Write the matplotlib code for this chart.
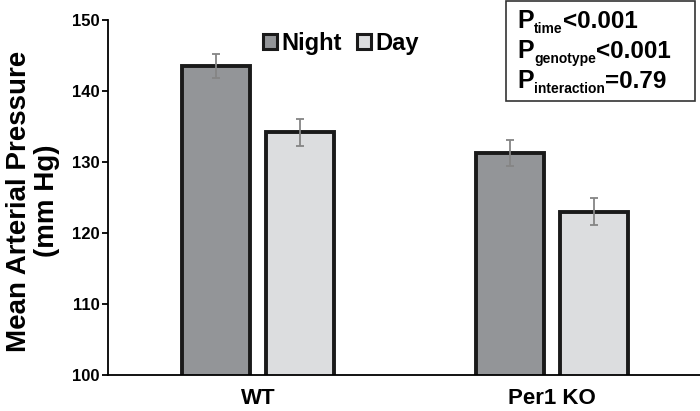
import numpy as np
import matplotlib.pyplot as plt

plt.rcParams['font.family'] = ['Liberation Sans', 'DejaVu Sans']
plt.rcParams['font.weight'] = 'bold'

# data
groups = ['WT', 'Per1 KO']
night = [143.5, 131.3]
night_err = [1.7, 1.8]
day = [134.2, 123.0]
day_err = [1.9, 1.9]
p_subs = ['time', 'genotype', 'interaction']
p_vals = ['<0.001', '<0.001', '=0.79']

x = np.arange(len(groups))
w = 0.231
off = 0.143

W, H = 700, 411
fig = plt.figure(figsize=(W / 100, H / 100), dpi=100)
ax = fig.add_axes([0.154, 0.0876, 0.846, 0.8634])

ax.bar(x - off, night, w, color='#939598', edgecolor='#1a1a1a', linewidth=2.8,
       label='Night', zorder=2)
ax.bar(x + off, day, w, color='#dcdddf', edgecolor='#1a1a1a', linewidth=2.8,
       label='Day', zorder=2)
ax.errorbar(x - off, night, yerr=night_err, fmt='none', ecolor='#858585',
            elinewidth=1.3, capsize=3.2, capthick=1.3, zorder=3)
ax.errorbar(x + off, day, yerr=day_err, fmt='none', ecolor='#858585',
            elinewidth=1.3, capsize=3.2, capthick=1.3, zorder=3)

ax.set_ylim(100, 150)
ax.set_xlim(-0.51, 1.503)
ax.set_yticks([100, 110, 120, 130, 140, 150])
ax.set_xticks(x)
ax.set_xticklabels(groups, fontsize=16, fontweight='bold')
ax.tick_params(axis='x', length=0, pad=9.5)
ax.tick_params(axis='y', labelsize=12, width=1.3, length=4.5, pad=1.5, direction='out')
for lab in ax.get_yticklabels():
    lab.set_fontweight('bold')

for s in ['top', 'right']:
    ax.spines[s].set_visible(False)
ax.spines['left'].set_linewidth(1.3)
ax.spines['bottom'].set_linewidth(1.3)

ax.set_ylabel('Mean Arterial Pressure\n(mm Hg)', fontsize=20, fontweight='bold',
              linespacing=1.1)
ax.yaxis.set_label_coords(-0.081, 0.49)

leg = ax.legend(loc='center left', bbox_to_anchor=(0.262, 0.935), ncol=2, frameon=False,
                prop={'size': 17, 'weight': 'bold'}, handlelength=0.6,
                handleheight=0.6, handletextpad=0.2, columnspacing=0.6,
                borderpad=0, borderaxespad=0)
for h in leg.legend_handles:
    h.set_linewidth(2.2)

# p-value box: P, smaller subscript, then the value
r = fig.canvas.get_renderer()
for i in range(3):
    base = 1 - (28 + 30 * i) / H
    t1 = fig.text(517 / W, base, 'P', fontsize=18, fontweight='bold', va='baseline')
    x1 = t1.get_window_extent(r).x1 / W
    t2 = fig.text(x1 + 0.5 / W, base - 5 / H, p_subs[i], fontsize=10, fontweight='bold',
                  va='baseline')
    x2 = t2.get_window_extent(r).x1 / W
    fig.text(x2, base, p_vals[i], fontsize=17.5, fontweight='bold', va='baseline')
fig.patches.append(plt.Rectangle((506 / W, 1 - 101 / H), 189 / W, 100 / H,
                                 transform=fig.transFigure, facecolor='none',
                                 edgecolor='#333333', linewidth=1.2))

fig.savefig('out.png', dpi=100)
